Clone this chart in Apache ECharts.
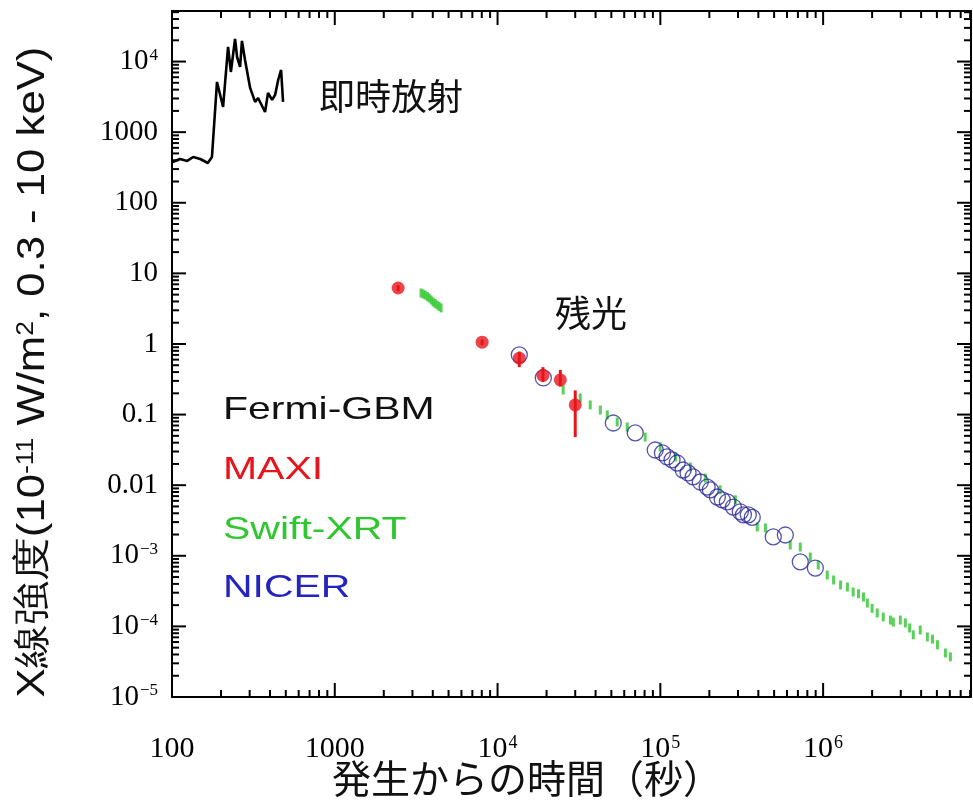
<!DOCTYPE html>
<html>
<head>
<meta charset="utf-8">
<script src="https://cdn.jsdelivr.net/npm/echarts@6/dist/echarts.min.js"></script>
<style>
  html, body { margin: 0; padding: 0; background: #fff; }
  #chart { width: 973px; height: 801px; }
</style>
</head>
<body>
<div id="chart"></div>
<script>
// Fermi-GBM prompt emission (time s, flux)
const gbmTime = [101, 112, 124, 135, 149, 166, 176, 189, 206, 221, 230, 244, 251, 262, 269, 281, 302, 324, 338, 373, 389, 412, 430, 449, 468, 481];
const gbmFlux = [378, 417, 391, 445, 417, 366, 445, 5140, 2275, 16100, 7120, 20900, 11600, 8390, 19600, 10500, 4230, 2680, 3050, 1930, 3590, 2860, 3370, 5480, 7600, 2680];

// MAXI
const maxiTime = [2450, 8040, 13600, 19000, 24300, 30000];
const maxiFlux = [6.2, 1.06, 0.63, 0.36, 0.31, 0.137];
const maxiLow = [5.6, 0.97, 0.47, 0.29, 0.25, 0.048];
const maxiHigh = [6.8, 1.15, 0.78, 0.47, 0.43, 0.22];

// Swift-XRT
const xrtTime = [3390, 3490, 3590, 3700, 3800, 3910, 4020, 4130, 4250, 4370, 4500, 25300, 32200, 37100, 42800, 47200, 54300,
  62600, 80700, 99800, 124000, 153000, 189000, 233000, 289000, 394000, 442000, 628000, 724000, 834000, 933000, 1060000,
  1160000, 1280000, 1410000, 1530000, 1650000, 1770000, 1870000, 2000000, 2150000, 2340000, 2590000, 2700000, 2980000,
  3200000, 3400000, 3580000, 3950000, 4370000, 4700000, 5040000, 5640000, 6050000];
const xrtFlux = [5.27, 5.1, 4.94, 4.7, 4.48, 4.2, 3.94, 3.75, 3.57, 3.4, 3.24, 0.223, 0.172, 0.137, 0.116, 0.099, 0.0785,
  0.0667, 0.048, 0.0348, 0.0251, 0.0181, 0.0126, 0.0086, 0.0062, 0.00256, 0.00248, 0.00142, 0.00133, 0.00096, 0.00074, 0.000535,
  0.000454, 0.000386, 0.000361, 0.000307, 0.000290, 0.000261, 0.000214, 0.000180, 0.000155, 0.000136, 0.000123, 0.000115, 0.000123,
  0.000112, 0.000095, 0.000076, 0.000089, 0.000071, 0.000066, 0.000055, 0.000042, 0.000037];

// NICER
const nicerTime = [13600, 19100, 51400, 70100, 93000, 103000, 110000, 118000, 127000, 138000, 148000, 159000, 176000,
  194000, 203000, 224000, 240000, 258000, 281000, 310000, 324000, 347000, 367000, 494000, 586000, 724000, 896000];
const nicerFlux = [0.70, 0.33, 0.076, 0.055, 0.0315, 0.0286, 0.0251, 0.0228, 0.0206, 0.0164, 0.0149, 0.0131, 0.0111,
  0.0094, 0.0086, 0.0068, 0.0062, 0.0058, 0.0049, 0.0042, 0.0038, 0.0038, 0.0035, 0.00185, 0.00197, 0.00082, 0.00067];

const X_MIN = 100, X_MAX = 8.1e6;
const Y_MIN = 1e-5, Y_MAX = 5.2e4;

const serif = '"Liberation Serif", "DejaVu Serif", serif';
const sans = '"Liberation Sans", "DejaVu Sans", sans-serif';
const cjk = '"Noto Sans CJK JP", sans-serif';

// tick positions along each axis: decades (long) and 2..9 (short)
const xTickVals = [], yTickVals = [];
for (let d = 100; d < X_MAX; d *= 10) for (let k = 1; k <= 9; k++) if (d * k < X_MAX) xTickVals.push([d * k, k === 1 ? 14 : 7]);
for (let d = 1e-5; d < Y_MAX; d *= 10) for (let k = 1; k <= 9; k++) if (d * k < Y_MAX) yTickVals.push([d * k, k === 1 ? 14 : 7]);

function tickLabel(v) {
  const e = Math.round(Math.log10(v));
  if (Math.abs(Math.log10(v) - e) > 0.01) return '';
  if (e >= 0 && e <= 3) return '1' + '0'.repeat(e);
  if (e < 0 && e >= -2) return '0.' + '0'.repeat(-e - 1) + '1';
  return '{b|10}{s|' + (e < 0 ? '\u2212' + (-e) : e) + '}';
}

function labelRich(size) {
  return {
    b: { fontFamily: serif, fontSize: size, color: '#000' },
    s: { fontFamily: serif, fontSize: Math.round(size * 0.6), color: '#000', verticalAlign: 'top', padding: [0, 0, 12, 1] }
  };
}

function makeAxis(min, max, size, margin) {
  return {
    type: 'log',
    logBase: 10,
    min: min,
    max: max,
    axisLine: { show: true, onZero: false, lineStyle: { color: '#000', width: 2 } },
    axisTick: { show: false },
    splitLine: { show: false },
    axisLabel: {
      showMaxLabel: false,
      margin: margin,
      fontFamily: serif,
      fontSize: size,
      color: '#000',
      formatter: tickLabel,
      rich: labelRich(size)
    }
  };
}

const tickLine = (x1, y1, x2, y2, w) => ({
  type: 'line',
  shape: { x1: x1, y1: y1, x2: x2, y2: y2 },
  style: { stroke: '#000', lineWidth: w || 2 }
});

const chart = echarts.init(document.getElementById('chart'));
chart.setOption({
  animation: false,
  grid: { left: 172, top: 11, right: 2, bottom: 104, containLabel: false, outerBoundsMode: 'none' },
  xAxis: makeAxis(X_MIN, X_MAX, 30, 37),
  yAxis: makeAxis(Y_MIN, Y_MAX, 29, 14),
  series: [
    {
      name: 'Fermi-GBM',
      type: 'line',
      symbol: 'none',
      lineStyle: { color: '#000', width: 2.6 },
      data: gbmTime.map((t, i) => [t, gbmFlux[i]])
    },
    {
      name: 'Swift-XRT',
      type: 'scatter',
      symbol: 'rect',
      symbolSize: [3, 9],
      itemStyle: { color: '#2fc62f' },
      data: xrtTime.map((t, i) => [t, xrtFlux[i]])
    },
    {
      name: 'NICER',
      type: 'scatter',
      symbol: 'circle',
      symbolSize: 16,
      itemStyle: { color: 'rgba(0,0,0,0)', borderColor: '#2a2a9a', borderWidth: 1.3 },
      data: nicerTime.map((t, i) => [t, nicerFlux[i]])
    },
    {
      name: 'MAXI-err',
      type: 'custom',
      data: maxiTime.map((t, i) => [t, maxiLow[i], maxiHigh[i]]),
      renderItem: (params, api) => {
        const lo = api.coord([api.value(0), api.value(1)]);
        const hi = api.coord([api.value(0), api.value(2)]);
        return { type: 'line', shape: { x1: lo[0], y1: lo[1], x2: hi[0], y2: hi[1] }, style: { stroke: '#e8141c', lineWidth: 3 } };
      }
    },
    {
      name: 'MAXI',
      type: 'scatter',
      symbol: 'circle',
      symbolSize: 13,
      itemStyle: { color: '#e8141c' },
      data: maxiTime.map((t, i) => [t, maxiFlux[i]])
    },
    {
      // ticks on bottom and top frame
      name: 'x-ticks',
      type: 'custom',
      data: xTickVals.map(d => [d[0], 1, d[1]]),
      renderItem: (params, api) => {
        const len = api.value(2);
        const b = api.coord([api.value(0), Y_MIN]);
        const t = api.coord([api.value(0), Y_MAX]);
        return { type: 'group', children: [tickLine(b[0], b[1], b[0], b[1] - len), tickLine(t[0], t[1], t[0], t[1] + len)] };
      }
    },
    {
      // ticks on left and right frame
      name: 'y-ticks',
      type: 'custom',
      data: yTickVals.map(d => [1e4, d[0], d[1]]),
      renderItem: (params, api) => {
        const len = api.value(2);
        const l = api.coord([X_MIN, api.value(1)]);
        const r = api.coord([X_MAX, api.value(1)]);
        return { type: 'group', children: [tickLine(l[0], l[1], l[0] + len, l[1]), tickLine(r[0], r[1], r[0] - len, r[1])] };
      }
    },
    {
      // top and right edges of the frame
      name: 'frame',
      type: 'custom',
      data: [[1e4, 1]],
      renderItem: (params, api) => {
        const tl = api.coord([X_MIN, Y_MAX]);
        const tr = api.coord([X_MAX, Y_MAX]);
        const br = api.coord([X_MAX, Y_MIN]);
        return { type: 'group', children: [tickLine(tl[0] - 1, tl[1], tr[0] + 1, tr[1], 2), tickLine(tr[0], tr[1], br[0], br[1], 2)] };
      }
    }
  ],
  graphic: [
    { type: 'text', x: 391, y: 96, style: { text: '即時放射', font: '36px ' + cjk, fill: '#111', align: 'center', verticalAlign: 'middle' } },
    { type: 'text', x: 591, y: 313, style: { text: '残光', font: '36px ' + cjk, fill: '#111', align: 'center', verticalAlign: 'middle' } },
    { type: 'text', x: 223, y: 410, scaleX: 1.28, style: { text: 'Fermi-GBM', font: '32px ' + sans, fill: '#111', align: 'left', verticalAlign: 'middle' } },
    { type: 'text', x: 223, y: 470, scaleX: 1.28, style: { text: 'MAXI', font: '32px ' + sans, fill: '#e8141c', align: 'left', verticalAlign: 'middle' } },
    { type: 'text', x: 223, y: 530, scaleX: 1.28, style: { text: 'Swift-XRT', font: '32px ' + sans, fill: '#2fc62f', align: 'left', verticalAlign: 'middle' } },
    { type: 'text', x: 223, y: 588, scaleX: 1.28, style: { text: 'NICER', font: '32px ' + sans, fill: '#2323c0', align: 'left', verticalAlign: 'middle' } },
    { type: 'text', x: 527, y: 778, style: { text: '発生からの時間（秒）', font: '39px ' + cjk, fill: '#111', align: 'center', verticalAlign: 'middle' } },
    {
      type: 'text', x: 34, y: 372, rotation: Math.PI / 2, scaleX: 1.15,
      style: {
        text: 'X線強度(10{s|-11} W/m{s|2}, 0.3 - 10 keV)',
        font: '38px ' + sans,
        fontFamily: sans,
        fontSize: 38,
        fill: '#111',
        align: 'center',
        verticalAlign: 'middle',
        rich: { s: { fontFamily: sans, fontSize: 23, fill: '#111', verticalAlign: 'top', padding: [0, 0, 15, 0] } }
      }
    }
  ]
});
</script>
</body>
</html>
